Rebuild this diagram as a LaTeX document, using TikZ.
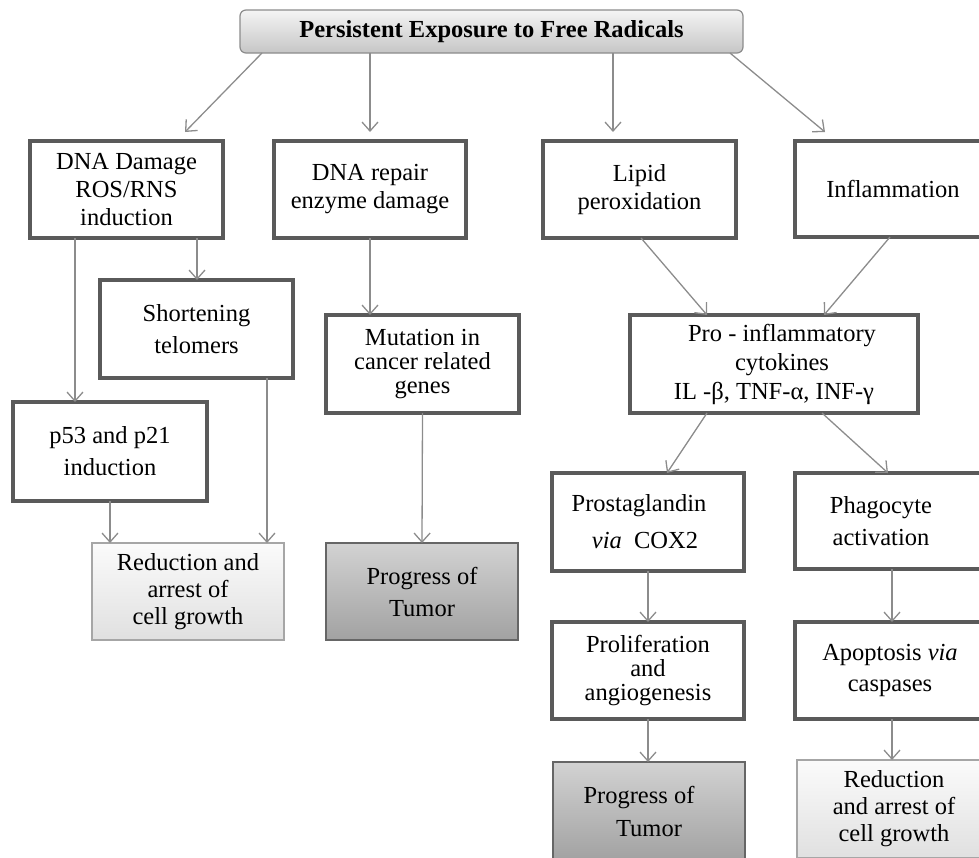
\documentclass[tikz,border=0pt]{standalone}
\usepackage{fontspec}
\setmainfont{Liberation Serif}
\usetikzlibrary{arrows.meta}
\definecolor{boxline}{HTML}{5A5A5A}
\definecolor{arrowc}{HTML}{8C8C8C}
\definecolor{toptop}{HTML}{F4F4F4}
\definecolor{topbot}{HTML}{C6C6C6}
\definecolor{lighttop}{HTML}{FBFBFB}
\definecolor{lightbot}{HTML}{E0E0E0}
\definecolor{darktop}{HTML}{D2D2D2}
\definecolor{darkbot}{HTML}{A2A2A2}
\begin{document}
\begin{tikzpicture}[x=1pt,y=-1pt,
  every node/.style={font=\fontsize{24.5}{28}\selectfont, align=center, inner sep=0pt, outer sep=0pt},
  box/.style={draw=boxline, line width=3.6pt, fill=white},
  titlebox/.style={draw=gray!90, line width=1.2pt, rounded corners=6pt, top color=toptop, bottom color=topbot,
     minimum width=503pt, minimum height=43pt, font=\fontsize{24.5}{28}\selectfont\bfseries},
  lightbox/.style={draw=gray!70, line width=1.2pt, top color=lighttop, bottom color=lightbot},
  darkbox/.style={draw=gray!120, line width=1.2pt, top color=darktop, bottom color=darkbot},
  arr/.style={draw=arrowc, line width=1.3pt, -{Straight Barb[length=9pt,width=16pt,line width=1.3pt]}}
]
\useasboundingbox (0,0) rectangle (979,857);
\clip (0,0) rectangle (979,857);

\node[titlebox] (top) at (491.5,31.5) {Persistent Exposure to Free Radicals};

\node[box, minimum width=193pt, minimum height=97pt] (dna) at (126.5,189.5) {DNA Damage\\ROS/RNS\\induction};
\node[box, minimum width=192pt, minimum height=97pt] (rep) at (370,189.5) {DNA repair\\enzyme damage};
\node[box, minimum width=193pt, minimum height=97pt] (lip) at (639.5,189.5) {Lipid\\peroxidation};
\node[box, minimum width=196pt, minimum height=96pt] (inf) at (893,189) {Inflammation};

\node[box, minimum width=193pt, minimum height=98pt, font=\fontsize{24.5}{32}\selectfont] (tel) at (196.5,329) {Shortening\\telomers};
\node[box, minimum width=194pt, minimum height=99pt, font=\fontsize{24.5}{32}\selectfont] (p53) at (110,451.5) {p53 and p21\\induction};
\node[box, minimum width=193pt, minimum height=98pt, font=\fontsize{24.5}{24}\selectfont] (mut) at (422.5,364) {Mutation in\\cancer related\\genes};
\node[box, minimum width=288pt, minimum height=98pt, font=\fontsize{24.5}{29}\selectfont] (pro) at (774,364) {\hspace*{16pt}Pro - inflammatory\\\hspace*{16pt}cytokines\\IL -β, TNF-α, INF-γ};

\node[lightbox, minimum width=192pt, minimum height=97pt, font=\fontsize{24.5}{27}\selectfont] (red1) at (188,591.5) {Reduction and\\arrest of\\cell growth};
\node[darkbox, minimum width=192pt, minimum height=97pt, font=\fontsize{24.5}{32}\selectfont] (tum1) at (422,591.5) {Progress of\\Tumor};

\node[box, minimum width=192pt, minimum height=98pt, font=\fontsize{24.5}{37}\selectfont] (pg) at (648,522) {Prostaglandin\hspace*{18pt}\\\textit{via}\ \ COX2\hspace*{6pt}};
\node[box, minimum width=196pt, minimum height=96pt, font=\fontsize{24.5}{32}\selectfont] (ph) at (893,521) {Phagocyte\hspace*{24pt}\\activation\hspace*{24pt}};

\node[box, minimum width=192pt, minimum height=97pt, font=\fontsize{24.5}{24}\selectfont] (prol) at (648,670.5) {Proliferation\\and\\angiogenesis};
\node[box, minimum width=196pt, minimum height=97pt, font=\fontsize{24.5}{31}\selectfont] (apo) at (893,670.5) {Apoptosis \textit{via}\hspace*{6pt}\\caspases\hspace*{6pt}};

\node[darkbox, minimum width=192pt, minimum height=98pt, font=\fontsize{24.5}{33}\selectfont] (tum2) at (649,811) {Progress of\hspace*{20pt}\\Tumor};
\node[lightbox, minimum width=194pt, minimum height=98pt, font=\fontsize{24.5}{27}\selectfont] (red2) at (894,809) {Reduction\\and arrest of\\cell growth};

% connectors
\draw[arr] ([xshift=22pt]top.south west) -- ([xshift=155pt,yshift=9pt]dna.north west);
\draw[arr] ([xshift=130pt]top.south west) -- ([yshift=9pt]rep.north);
\draw[arr] ([xshift=373pt]top.south west) -- ([xshift=70pt,yshift=9pt]lip.north west);
\draw[arr] ([xshift=490pt]top.south west) -- ([xshift=30pt,yshift=9pt]inf.north west);

\draw[arr] ([xshift=167pt]dna.south west) -- ([xshift=97pt]tel.north west);
\draw[arr] ([xshift=45pt]dna.south west) -- ([xshift=62pt]p53.north west);
\draw[arr] ([xshift=97pt]p53.south west) -- ([xshift=18pt]red1.north west);
\draw[arr] ([xshift=167pt]tel.south west) -- ([xshift=175pt]red1.north west);

\draw[arr] (rep.south) -- ([xshift=44pt]mut.north west);
\draw[arr] (mut.south) -- (tum1.north);

\draw[arr] ([xshift=98pt]lip.south west) -- ([xshift=77pt]pro.north west);
\draw[arr] ([xshift=95pt]inf.south west) -- ([xshift=194pt]pro.north west);
\draw[arr] ([xshift=77pt]pro.south west) -- ([xshift=115pt]pg.north west);
\draw[arr] ([xshift=192pt]pro.south west) -- ([xshift=93pt]ph.north west);

\draw[arr] (pg.south) -- (prol.north);
\draw[arr] ([xshift=97pt]ph.south west) -- ([xshift=97pt]apo.north west);
\draw[arr] (prol.south) -- ([xshift=95pt]tum2.north west);
\draw[arr] ([xshift=97pt]apo.south west) -- ([xshift=95pt]red2.north west);
\end{tikzpicture}
\end{document}
